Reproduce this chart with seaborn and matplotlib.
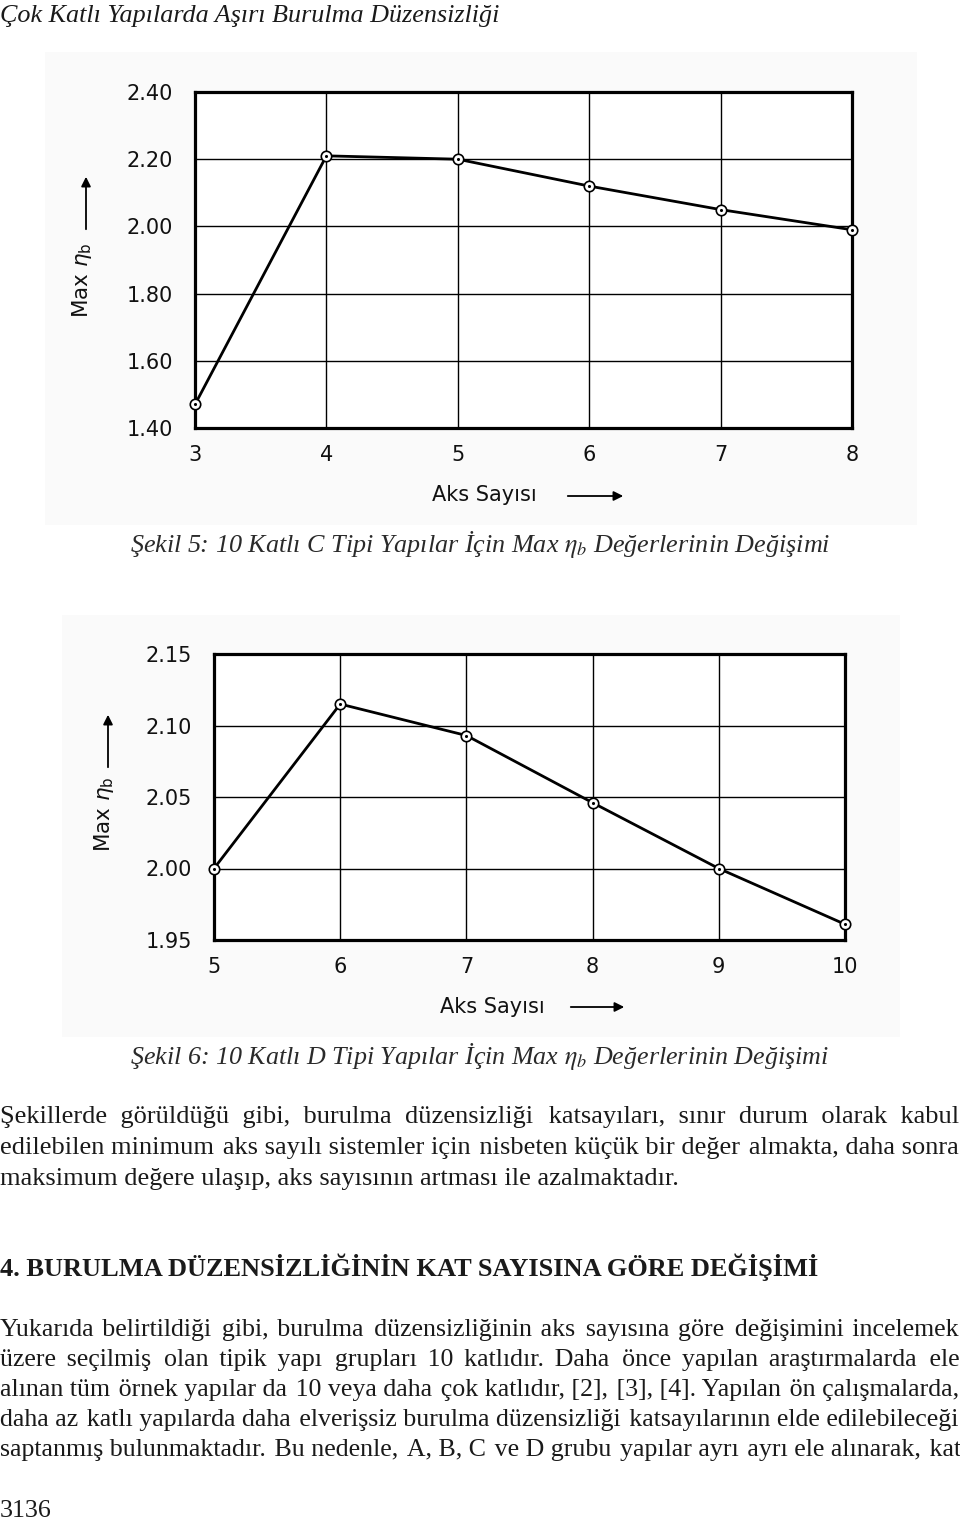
import matplotlib
matplotlib.use("Agg")
import matplotlib.pyplot as plt
import seaborn as sns
import pandas as pd
from matplotlib.patches import Rectangle, FancyArrowPatch

# ---------------- data ----------------
aks_c = [3, 4, 5, 6, 7, 8]
eta_c = [1.47, 2.21, 2.20, 2.12, 2.05, 1.99]
yticks_c = [1.40, 1.60, 1.80, 2.00, 2.20, 2.40]

aks_d = [5, 6, 7, 8, 9, 10]
eta_d = [2.00, 2.115, 2.093, 2.046, 2.00, 1.961]
yticks_d = [1.95, 2.00, 2.05, 2.10, 2.15]

header = "Çok Katlı Yapılarda Aşırı Burulma Düzensizliği"
caption_c = r"Şekil 5: 10 Katlı C Tipi Yapılar İçin Max $\eta_b$ Değerlerinin Değişimi"
caption_d = r"Şekil 6: 10 Katlı D Tipi Yapılar İçin Max $\eta_b$ Değerlerinin Değişimi"
ylabel = r"Max $\eta_\mathregular{b}$"
xlabel = "Aks Sayısı"
para1 = [
    "Şekillerde görüldüğü gibi, burulma düzensizliği katsayıları, sınır durum olarak kabul",
    "edilebilen minimum aks sayılı sistemler için nisbeten küçük bir değer almakta, daha sonra",
    "maksimum değere ulaşıp, aks sayısının artması ile azalmaktadır.",
]
heading = "4. BURULMA DÜZENSİZLİĞİNİN KAT SAYISINA GÖRE DEĞİŞİMİ"
para2 = [
    "Yukarıda belirtildiği gibi, burulma düzensizliğinin aks sayısına göre değişimini incelemek",
    "üzere seçilmiş olan tipik yapı grupları 10 katlıdır. Daha önce yapılan araştırmalarda ele",
    "alınan tüm örnek yapılar da 10 veya daha çok katlıdır, [2], [3], [4]. Yapılan ön çalışmalarda,",
    "daha az katlı yapılarda daha elverişsiz burulma düzensizliği katsayılarının elde edilebileceği",
    "saptanmış bulunmaktadır. Bu nedenle, A, B, C ve D grubu yapılar ayrı ayrı ele alınarak, kat",
]
page_no = "3136"

# ---------------- setup ----------------
sns.set_style("white")
plt.rcParams['font.family'] = ['DejaVu Sans']
plt.rcParams['mathtext.fontset'] = 'dejavusans'

W, H = 960, 1520
fig = plt.figure(figsize=(9.6, 15.2), dpi=100)
fig.patch.set_facecolor('white')
renderer = fig.canvas.get_renderer()

SERIF = ['Liberation Serif', 'DejaVu Serif']
TXT = '#1a1a1a'


def fx(x):
    return x / W


def fy(y):
    return 1 - y / H


def tw(s, **kw):
    t = fig.text(0, 0, s, **kw)
    w = t.get_window_extent(renderer).width
    t.remove()
    return w


def fit_size(s, target, **kw):
    return 20 * target / tw(s, fontsize=20, **kw)


# faint scan background of figure images
for (x0, y0, x1, y1) in [(45, 52, 917, 525), (62, 615, 900, 1037)]:
    fig.add_artist(Rectangle((fx(x0), fy(y1)), (x1 - x0) / W, (y1 - y0) / H,
                             transform=fig.transFigure, facecolor='#fafafa',
                             edgecolor='none', zorder=-5))


def chart(rect, xs, ys, yticks):
    ax = fig.add_axes(rect)
    ax.set_facecolor('white')
    df = pd.DataFrame({'aks': xs, 'eta': ys})
    sns.lineplot(data=df, x='aks', y='eta', ax=ax, color='black', linewidth=2.0,
                 marker='o', markersize=7.5, markerfacecolor='white',
                 markeredgecolor='black', markeredgewidth=1.2, clip_on=False, zorder=3)
    sns.scatterplot(data=df, x='aks', y='eta', ax=ax, color='black', s=5,
                    linewidth=0, clip_on=False, zorder=4)
    ax.set_xlim(xs[0], xs[-1])
    ax.set_ylim(yticks[0], yticks[-1])
    ax.set_xticks(xs)
    ax.set_xticklabels([str(v) for v in xs])
    ax.set_yticks(yticks)
    ax.set_yticklabels([f"{v:.2f}" for v in yticks])
    ax.grid(True, color='black', linewidth=1.0)
    for s in ax.spines.values():
        s.set_visible(True)
        s.set_linewidth(2.3)
        s.set_color('black')
    ax.tick_params(length=0, labelsize=15, colors='#111111')
    ax.tick_params(axis='y', pad=16)
    ax.tick_params(axis='x', pad=12)
    ax.set_xlabel('')
    ax.set_ylabel('')
    return ax


def arrow(p0, p1):
    fig.add_artist(FancyArrowPatch((fx(p0[0]), fy(p0[1])), (fx(p1[0]), fy(p1[1])),
                                   transform=fig.transFigure, arrowstyle='-|>',
                                   mutation_scale=14, lw=1.3, color='black'))


# ---- chart 1 (C type) ----
chart([195 / W, fy(428), 657 / W, 336 / H], aks_c, eta_c, yticks_c)
fig.text(fx(82), fy(280), ylabel, rotation=90, ha='center', va='center',
         fontsize=15.5, color='#111111')
arrow((86, 232), (86, 174))
fig.text(fx(484), fy(495), xlabel, ha='center', va='center', fontsize=15, color='#111111')
arrow((565, 496), (626, 496))

# ---- chart 2 (D type) ----
chart([214 / W, fy(940), 631 / W, 286 / H], aks_d, eta_d, yticks_d)
fig.text(fx(104), fy(814), ylabel, rotation=90, ha='center', va='center',
         fontsize=15.5, color='#111111')
arrow((108, 770), (108, 712))
fig.text(fx(492), fy(1007), xlabel, ha='center', va='center', fontsize=15, color='#111111')
arrow((568, 1007), (627, 1007))

# ---------------- page text ----------------
hs = fit_size(header, 500, family=SERIF, style='italic')
fig.text(fx(0), fy(22), header, family=SERIF, style='italic', fontsize=hs,
         color=TXT, ha='left', va='baseline')

for cap, base in [(caption_c, 552), (caption_d, 1064)]:
    cs = fit_size(cap, 698, family=SERIF, style='italic', math_fontfamily='stix')
    fig.text(fx(130), fy(base), cap, family=SERIF, style='italic', fontsize=cs,
             math_fontfamily='stix', color='#2a2a2a', ha='left', va='baseline')

HAIR = '\u200a'


def justify(lines, baselines, size, last_justified=False, **kw):
    """One text per line; the word gaps are widened with hair spaces so the
    line spans the full page width (justified setting)."""
    hw = (tw('a' + HAIR * 20 + 'a', fontsize=size, **kw) - tw('aa', fontsize=size, **kw)) / 20
    for i, (line, yb) in enumerate(zip(lines, baselines)):
        words = line.split(' ')
        is_last = (i == len(lines) - 1) and not last_justified
        if is_last or len(words) < 2:
            s = line
        else:
            extra = max(0.0, W - 1 - tw(line, fontsize=size, **kw))
            total = extra / hw if hw > 0 else 0
            gaps = len(words) - 1
            s = words[0]
            prev = 0
            for j, w in enumerate(words[1:], 1):
                tgt = int(round(total * j / gaps))
                s += ' ' + HAIR * (tgt - prev) + w
                prev = tgt
        fig.text(fx(0), fy(yb), s, fontsize=size, ha='left', va='baseline',
                 color=TXT, **kw)


# paragraph 1: size from its last line (ends near x = 680)
bs1 = fit_size(para1[-1], 680, family=SERIF)
for ln in para1[:-1]:
    bs1 = min(bs1, 20 * (W - 2) / tw(ln, fontsize=20, family=SERIF))
justify(para1, [1123, 1154, 1185], bs1, family=SERIF)

hds = fit_size(heading, 815, family=SERIF, weight='bold')
fig.text(fx(0), fy(1276), heading, family=SERIF, weight='bold', fontsize=hds,
         color=TXT, ha='left', va='baseline')

# paragraph 2: tightly set, size from its fullest line
bs2 = min(20 * (W - 4) / tw(ln, fontsize=20, family=SERIF) for ln in para2)
justify(para2, [1336, 1366, 1396, 1426, 1456], bs2, last_justified=True, family=SERIF)

ps = fit_size(page_no, 52, family=SERIF)
fig.text(fx(0), fy(1517), page_no, family=SERIF, fontsize=ps, color=TXT,
         ha='left', va='baseline')

fig.savefig("out.png", dpi=100, facecolor='white')
